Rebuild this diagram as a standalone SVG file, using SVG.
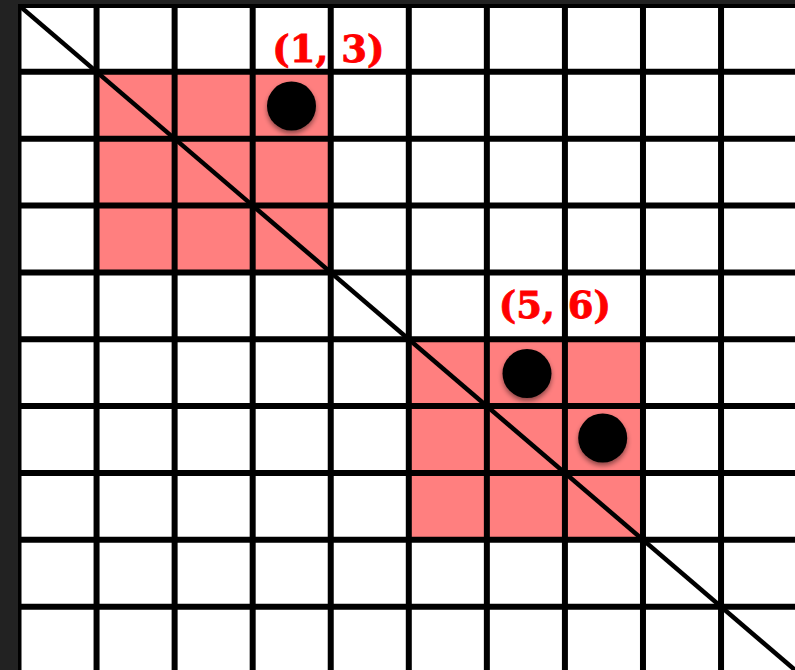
<svg xmlns="http://www.w3.org/2000/svg" width="795" height="670" viewBox="0 0 795 670">
  <defs>
    <style>
      .cell { fill: #ff7f7f; }
      .grid line { stroke: #000; stroke-width: 6; }
      .diag { stroke: #000; stroke-width: 4.5; fill: none; }
      .dot { fill: #000; filter: url(#shadow); }
      .lbl { font-family: "DejaVu Serif", "Liberation Serif", serif; font-weight: bold; font-size: 37px; fill: #ff0000; stroke: #ff0000; stroke-width: 0.8; text-anchor: middle; }
    </style>
    <filter id="shadow" x="-50%" y="-50%" width="200%" height="200%">
      <feDropShadow dx="0" dy="3" stdDeviation="2.5" flood-color="#000" flood-opacity="0.45"/>
    </filter>
    <clipPath id="area">
      <rect x="18" y="4" width="777" height="666"/>
    </clipPath>
  </defs>
  <rect x="0" y="0" width="795" height="670" fill="#222222"/>
  <rect x="18" y="4" width="777" height="666" fill="#ffffff"/>
  <g clip-path="url(#area)">
    <g id="block-1">
      <rect class="cell" x="96.56" y="71.85" width="234.18" height="200.55"/>
    </g>
    <g id="block-2">
      <rect class="cell" x="408.8" y="339.25" width="234.18" height="200.55"/>
    </g>
    <g id="grid" class="grid">
      <line x1="18.5" y1="0" x2="18.5" y2="670"/>
      <line x1="96.56" y1="0" x2="96.56" y2="670"/>
      <line x1="174.62" y1="0" x2="174.62" y2="670"/>
      <line x1="252.68" y1="0" x2="252.68" y2="670"/>
      <line x1="330.74" y1="0" x2="330.74" y2="670"/>
      <line x1="408.8" y1="0" x2="408.8" y2="670"/>
      <line x1="486.86" y1="0" x2="486.86" y2="670"/>
      <line x1="564.92" y1="0" x2="564.92" y2="670"/>
      <line x1="642.98" y1="0" x2="642.98" y2="670"/>
      <line x1="721.04" y1="0" x2="721.04" y2="670"/>
      <line x1="0" y1="5" x2="795" y2="5"/>
      <line x1="0" y1="71.85" x2="795" y2="71.85"/>
      <line x1="0" y1="138.7" x2="795" y2="138.7"/>
      <line x1="0" y1="205.55" x2="795" y2="205.55"/>
      <line x1="0" y1="272.4" x2="795" y2="272.4"/>
      <line x1="0" y1="339.25" x2="795" y2="339.25"/>
      <line x1="0" y1="406.1" x2="795" y2="406.1"/>
      <line x1="0" y1="472.95" x2="795" y2="472.95"/>
      <line x1="0" y1="539.8" x2="795" y2="539.8"/>
      <line x1="0" y1="606.65" x2="795" y2="606.65"/>
    </g>
    <g id="connectors">
      <line class="diag" x1="18.5" y1="5" x2="800" y2="674.3"/>
    </g>
  </g>
  <g id="dot-1-3">
    <circle class="dot" cx="291.5" cy="106" r="24.5"/>
  </g>
  <g id="dot-5-6a">
    <circle class="dot" cx="527" cy="373.5" r="24.5"/>
  </g>
  <g id="dot-5-6b">
    <circle class="dot" cx="602.7" cy="438" r="24.5"/>
  </g>
  <g id="label-1-3">
    <text class="lbl" x="328.5" y="62">(1, 3)</text>
  </g>
  <g id="label-5-6">
    <text class="lbl" x="555" y="318">(5, 6)</text>
  </g>
</svg>
